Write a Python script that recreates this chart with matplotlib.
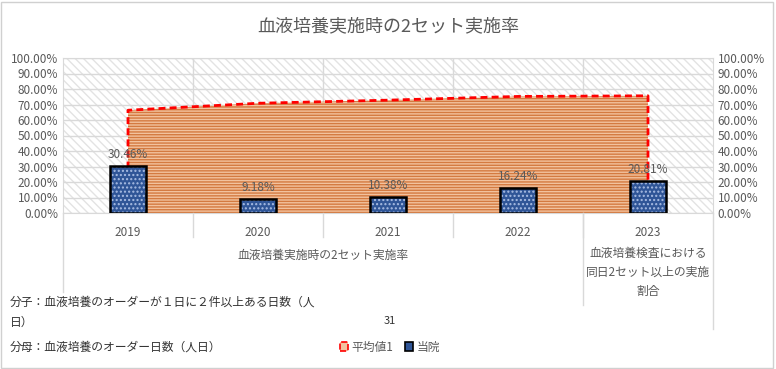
import matplotlib
matplotlib.use('Agg')
import matplotlib.pyplot as plt
import matplotlib.transforms as mtransforms
from matplotlib.patches import Rectangle, Patch
from matplotlib.ticker import PercentFormatter
import numpy as np

plt.rcParams['font.family'] = ['Noto Sans CJK JP', 'DejaVu Sans']

# ── データ ──
years = ['2019', '2020', '2021', '2022', '2023']
hospital = [30.46, 9.18, 10.38, 16.24, 20.81]      # 当院 (%)
average = [66.3, 70.8, 72.8, 75.2, 75.6]           # 平均値1 (%)
group_labels = ['血液培養実施時の2セット実施率',
                '血液培養検査における\n同日2セット以上の実施\n割合']

TXT = '#595959'
GRID = '#d9d9d9'
BLUE = '#2f5597'
ORANGE_L = '#f2c29e'
ORANGE_D = '#d47a40'

W, H = 776, 369
fig = plt.figure(figsize=(W / 100, H / 100), dpi=100)
fig.patch.set_facecolor('white')
ax = fig.add_axes([63 / W, 1 - 213 / H, 650 / W, 155 / H])

x = np.arange(len(years))
ax.set_xlim(-0.5, len(years) - 0.5)
ax.set_ylim(0, 100)

# 背景の斜線
bg = Rectangle((0, 0), 1, 1, transform=ax.transAxes, facecolor='white',
               edgecolor='#e3e3e3', hatch='\\\\\\\\', linewidth=0, zorder=0)
ax.add_patch(bg)

# 平均値1 (面グラフ)
ax.fill_between(x, average, facecolor=ORANGE_L, edgecolor=ORANGE_D,
                hatch='------', linewidth=0, zorder=2)
ax.plot(np.r_[x[0], x, x[-1]], np.r_[0, average, 0], color='#ff0000',
        linestyle=(0, (2.5, 1.5)), linewidth=2, zorder=3)

# 当院 (棒)
ax.bar(x, hospital, width=0.28, color=BLUE, edgecolor='#a9bde3',
       hatch='....', linewidth=0, zorder=4)
ax.bar(x, hospital, width=0.28, fill=False, edgecolor='black',
       linewidth=1.8, zorder=5)
for xi, v in zip(x, hospital):
    ax.text(xi, v + 3, f'{v:.2f}%', ha='center', va='bottom',
            fontsize=8.5, color=TXT, zorder=6)

# 軸・グリッド
ax.yaxis.set_major_locator(plt.MultipleLocator(10))
ax.yaxis.set_major_formatter(PercentFormatter(decimals=2))
ax.set_xticks(x)
ax.set_xticklabels(years)
ax.set_xticks(x[:-1] + 0.5, minor=True)
ax.grid(axis='y', color=GRID, linewidth=1, zorder=1)
ax.grid(axis='x', which='minor', color=GRID, linewidth=1, zorder=1)
ax.set_axisbelow(True)
ax.tick_params(axis='both', which='both', length=0, colors=TXT, labelsize=8.5)
ax.tick_params(axis='x', pad=9)
for s in ax.spines.values():
    s.set_color(GRID)

ax2 = ax.twinx()
ax2.set_ylim(0, 100)
ax2.yaxis.set_major_locator(plt.MultipleLocator(10))
ax2.yaxis.set_major_formatter(PercentFormatter(decimals=2))
ax2.tick_params(axis='y', length=0, colors=TXT, labelsize=8.5)
for s in ax2.spines.values():
    s.set_visible(False)

# 分類軸の区切り線
fy = lambda py: 1 - py / H
trans = mtransforms.blended_transform_factory(ax.transData, fig.transFigure)
for xb in x[:-1] + 0.5:
    ax.plot([xb, xb], [fy(213), fy(237)], transform=trans, color=GRID,
            linewidth=1, clip_on=False)
ax.plot([-0.5, -0.5], [fy(213), fy(292)], transform=trans, color=GRID,
        linewidth=1, clip_on=False)
ax.plot([3.5, 3.5], [fy(213), fy(305)], transform=trans, color=GRID,
        linewidth=1, clip_on=False)
ax.plot([4.5, 4.5], [fy(213), fy(329)], transform=trans, color=GRID,
        linewidth=1, clip_on=False)

ax.text(1.5, fy(255), group_labels[0], transform=trans, ha='center',
        va='center', fontsize=8.5, color=TXT)
ax.text(4, fy(272), group_labels[1], transform=trans, ha='center',
        va='center', fontsize=8.5, color=TXT, linespacing=1.6)

# タイトル
fig.text(388 / W, fy(26), '血液培養実施時の2セット実施率', ha='center',
         va='center', fontsize=13, color=TXT)

# 注記
fig.text(10 / W, fy(302), '分子：血液培養のオーダーが１日に２件以上ある日数（人',
         ha='left', va='center', fontsize=8.5, color='#333333')
fig.text(10 / W, fy(322), '日）', ha='left', va='center', fontsize=8.5,
         color='#333333')
fig.text(10 / W, fy(347), '分母：血液培養のオーダー日数（人日）', ha='left',
         va='center', fontsize=8.5, color='#333333')
fig.text(390 / W, fy(321), '31', ha='center', va='center', fontsize=8,
         color='#333333')

# 凡例
handles = [Patch(facecolor=ORANGE_L, edgecolor='#ff0000', linestyle='--',
                 linewidth=1.2, label='平均値1'),
           Patch(facecolor=BLUE, edgecolor='black', linewidth=1.2,
                 label='当院')]
fig.legend(handles=handles, loc='center', bbox_to_anchor=(390 / W, fy(347)),
           ncol=2, frameon=False, fontsize=8.5, labelcolor=TXT,
           handlelength=0.7, handleheight=0.7, handletextpad=0.3,
           columnspacing=1.0)

# 外枠
fig.add_artist(Rectangle((1 / W, 1 / H), 772 / W, 366 / H,
                         transform=fig.transFigure, fill=False,
                         edgecolor='#d0d0d0', linewidth=1))

fig.savefig('out.png', dpi=100, facecolor='white')
